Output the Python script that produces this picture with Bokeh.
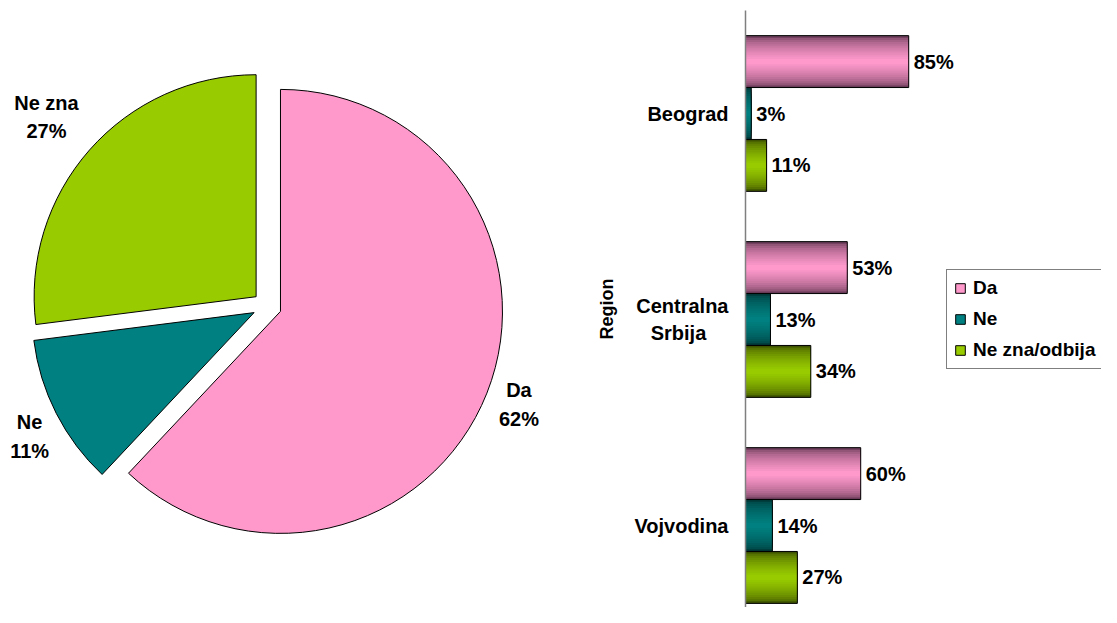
import numpy as np
from bokeh.plotting import figure
from bokeh.layouts import row
from bokeh.models import Range1d, FixedTicker, ColumnDataSource, Legend, LegendItem
from bokeh.core.properties import value
from bokeh.embed import file_html
from bokeh.resources import INLINE

# ---------------- data ----------------
pie_labels = ["Da", "Ne", "Ne zna"]
pie_values = [62, 11, 27]

regions = ["Beograd", "Centralna\nSrbija\u00a0\u00a0\u00a0\u00a0", "Vojvodina"]
series = ["Da", "Ne", "Ne zna/odbija"]
da_values = [85, 53, 60]
ne_values = [3, 13, 14]
nezna_values = [11, 34, 27]

# ---------------- style ----------------
FONT = value("Liberation Sans")
FS = "20px"
light = ["#FF99CC", "#008080", "#99CC00"]
dark = ["#6A3B58", "#003A3A", "#3E5300"]


def blend(c1, c2, t):
    a = [int(c1[i:i + 2], 16) for i in (1, 3, 5)]
    b = [int(c2[i:i + 2], 16) for i in (1, 3, 5)]
    return "#%02x%02x%02x" % tuple(int(round(a[k] + (b[k] - a[k]) * t)) for k in range(3))


# ---------------- pie ----------------
R = 222
EXPLODE = 14.5
LABEL_R = [271, 272, 286]
LABEL_DX = [0, 5, -6]
LABEL_DY = [0, -9, 3]

p1 = figure(width=560, height=607, x_range=Range1d(-266.5, 293.5),
            y_range=Range1d(-306.4, 300.6), output_backend="svg",
            toolbar_location=None, min_border=0)
p1.title.visible = False
p1.axis.visible = False
p1.grid.visible = False
p1.outline_line_color = None

vals = np.array(pie_values, dtype=float)
frac = vals / vals.sum()
cum = np.concatenate([[0.0], np.cumsum(frac)]) * 360.0
start = cum[:-1]
end = cum[1:]
mid = np.radians((start + end) / 2)
dx = np.sin(mid)
dy = np.cos(mid)

wsrc = ColumnDataSource(dict(
    x=EXPLODE * dx, y=EXPLODE * dy,
    start=np.radians(90 - start), end=np.radians(90 - end),
    color=light,
))
p1.wedge(x="x", y="y", radius=R, start_angle="start", end_angle="end",
         direction="clock", fill_color="color", line_color="black", line_width=1,
         source=wsrc)

lr = np.array(LABEL_R, dtype=float)
lsrc = ColumnDataSource(dict(
    x=lr * dx + np.array(LABEL_DX, dtype=float),
    y=lr * dy + np.array(LABEL_DY, dtype=float),
    text=[f"{l}\n{v}%" for l, v in zip(pie_labels, pie_values)],
))
p1.text(x="x", y="y", text="text", source=lsrc, text_align="center",
        text_baseline="middle", text_font=FONT, text_font_size=FS,
        text_font_style="bold", text_color="black", text_line_height=1.3)

# ---------------- bars ----------------
p2 = figure(width=541, height=607, x_range=Range1d(0, 185.4),
            y_range=Range1d(0.102, 3.0), output_backend="svg",
            toolbar_location=None, min_border_left=185, min_border_top=10,
            min_border_right=0, min_border_bottom=0)
p2.title.visible = False
p2.xaxis.visible = False
p2.grid.visible = False
p2.outline_line_color = None

n = len(regions)
centers = n - 0.5 - np.arange(n)
BAR_H = 0.252
NL = 12

legend_items = []
for j, (name, sv) in enumerate(zip(series, [da_values, ne_values, nezna_values])):
    y = centers + (1 - j) * BAR_H
    src = ColumnDataSource(dict(y=y, right=sv, text=[f"{v}%" for v in sv]))
    mid_r = None
    for k in range(NL):
        t = k / (NL - 1)
        r = p2.hbar(y="y", left=0, right="right", height=BAR_H * (1 - 0.9 * t),
                    fill_color=blend(dark[j], light[j], t ** 0.55), line_color=None,
                    source=src)
        if k == NL - 1:
            mid_r = r
    out_r = p2.hbar(y="y", left=0, right="right", height=BAR_H, fill_color=None,
                    line_color="black", line_width=1, source=src)
    p2.text(x="right", y="y", text="text", source=src, x_offset=5,
            text_align="left", text_baseline="middle", text_font=FONT,
            text_font_size=FS, text_font_style="bold", text_color="black")
    legend_items.append(LegendItem(label=name, renderers=[mid_r, out_r]))

ax = p2.yaxis[0]
ax.ticker = FixedTicker(ticks=[float(c) for c in centers])
ax.major_label_overrides = {float(c): r for c, r in zip(centers, regions)}
ax.major_tick_line_color = None
ax.minor_tick_line_color = None
ax.major_tick_out = 0
ax.major_tick_in = 0
ax.major_label_standoff = 17
ax.major_label_text_font = "Liberation Sans"
ax.major_label_text_font_size = FS
ax.major_label_text_font_style = "bold"
ax.major_label_text_color = "black"
ax.axis_line_color = "#7f7f7f"
ax.axis_line_width = 1.5
ax.axis_label = "Region"
ax.axis_label_text_font = "Liberation Sans"
ax.axis_label_text_font_size = "18px"
ax.axis_label_text_font_style = "bold"
ax.axis_label_text_color = "black"
ax.axis_label_standoff = 14

legend = Legend(items=legend_items, location=(201, 238),
                label_text_font="Liberation Sans", label_text_font_size="19px",
                label_text_font_style="bold", label_text_color="black",
                glyph_width=12, glyph_height=12, spacing=9, padding=7,
                label_standoff=7, border_line_color="black", border_line_width=1,
                background_fill_color="white", background_fill_alpha=1, margin=0)
p2.add_layout(legend)

layout = row(p1, p2)
open("out.html", "w").write(file_html(layout, INLINE))
